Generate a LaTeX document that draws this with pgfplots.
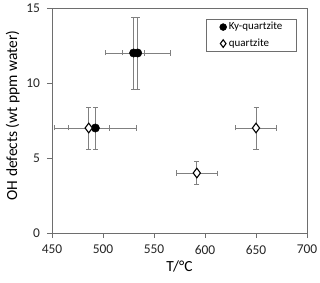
\documentclass[border=0pt]{standalone}
\usepackage{pgfplots}
\pgfplotsset{compat=1.18}
\usepackage{fontspec}
\setmainfont{Carlito}
\definecolor{errgray}{RGB}{128,128,128}
\definecolor{axgray}{RGB}{110,110,110}
\begin{document}
\begin{tikzpicture}
\path[use as bounding box] (-52bp,-50bp) rectangle (268bp,233bp);
\begin{axis}[
  at={(0,0)}, anchor=south west,
  scale only axis, width=255bp, height=225bp,
  xmin=450, xmax=700, ymin=0, ymax=15,
  xtick={450,500,550,600,650,700}, ytick={0,5,10,15},
  tick align=outside, tick pos=left, major tick length=5bp,
  axis line style={axgray, line width=0.9pt},
  tick style={axgray, line width=0.9pt},
  ticklabel style={font=\fontsize{13.5}{13.5}\selectfont, text=black!85},
  yticklabel style={xshift=-3.5bp},
  xticklabel style={yshift=-3.5bp},
  /pgf/number format/assume math mode=true,
  xlabel={T/°C}, ylabel={OH defects (wt ppm water)},
  label style={font=\fontsize{15.5}{15.5}\selectfont},
  xlabel style={yshift=0bp},
  ylabel style={yshift=0bp, xshift=5bp},
  legend style={at={(0.9596,0.951)}, anchor=north east, draw=axgray, line width=0.6pt,
    font=\fontsize{11}{13}\selectfont, inner xsep=0pt, inner ysep=2bp, row sep=5bp,
    nodes={inner xsep=0pt, inner ysep=0pt, text height=8.5bp, text depth=3bp}},
  legend cell align=left,
  legend image code/.code={\path[use as bounding box, draw=none, fill=none] (0bp,-3bp) rectangle (22.5bp,3bp); \draw[#1] plot coordinates {(16.7bp,0bp)};},
]
\addplot[only marks, mark=*, mark size=4.2bp, black,
  legend image post style={mark size=3.4bp},
  error bars/.cd, x dir=both, x explicit, y dir=both, y explicit,
  error bar style={errgray, line width=0.9pt},
  error mark options={errgray, line width=0.9pt, mark size=2.5bp, rotate=90}]
  table[x=x, y=y, x error=ex, y error=ey] {
x y ex ey
530 12 10.5 2.4
534 12 32 2.4
492.5 7 40 1.4
};
\addlegendentry{Ky-quartzite\kern14bp\mbox{}}
\addplot[only marks, mark=diamond*, mark size=4.8bp, mark options={fill=white, draw=black, line width=1.1pt},
  legend image post style={mark size=3.8bp},
  error bars/.cd, x dir=both, x explicit, y dir=both, y explicit,
  error bar style={errgray, line width=0.9pt},
  error mark options={errgray, line width=0.9pt, mark size=2.5bp, rotate=90}]
  table[x=x, y=y, x error=ex, y error=ey] {
x y ex ey
486 7 20 1.4
592 4 20.4 0.75
650 7 20.3 1.4
};
\addlegendentry{quartzite}
\end{axis}
\end{tikzpicture}
\end{document}
